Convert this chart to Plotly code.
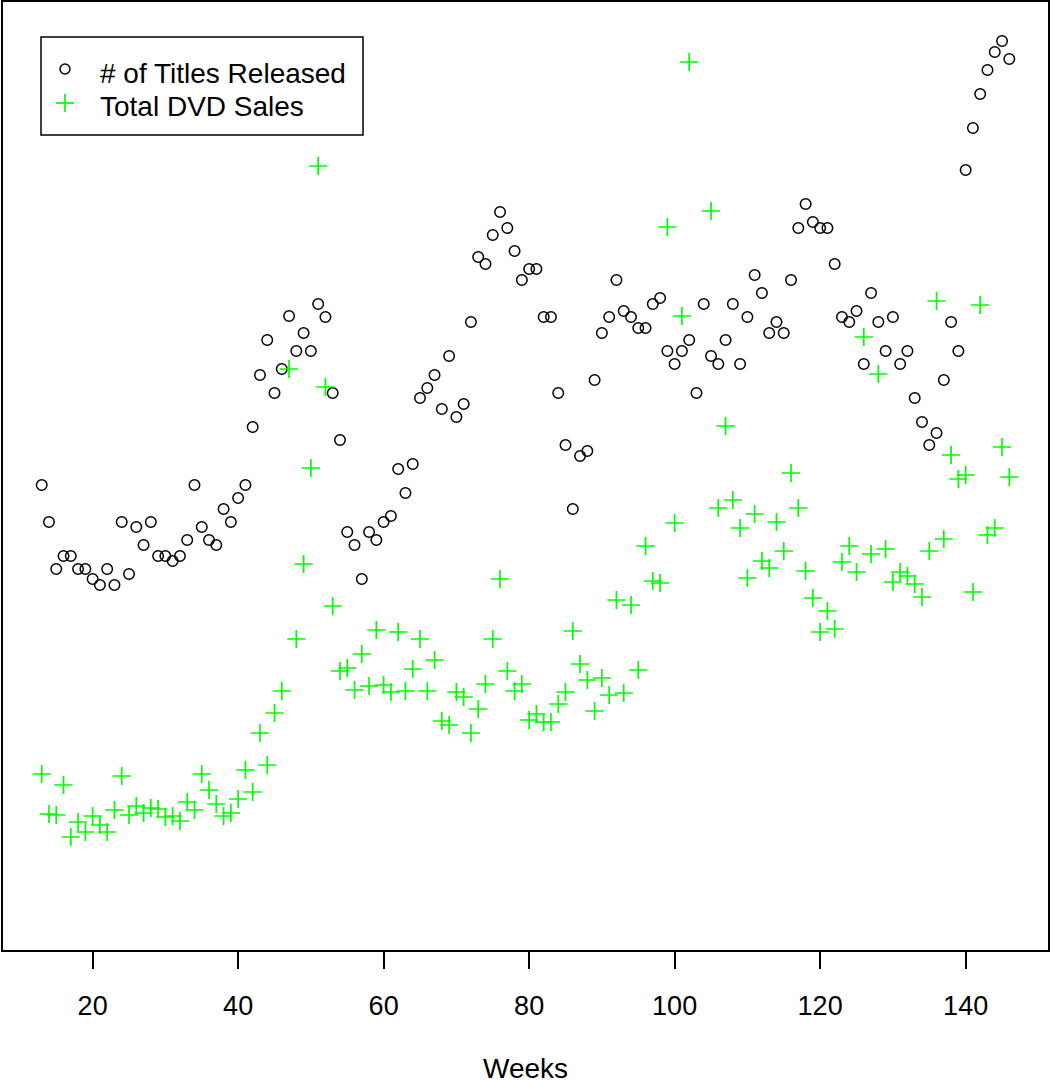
import plotly.graph_objects as go

# Weeks (x) shared by both series
weeks = list(range(13, 147))

# "# of Titles Released" (relative units, height above plot floor)
titles_released = [
    465, 428, 381, 394, 394, 381, 381, 371, 365, 381,   # 13-22
    365, 428, 376, 423, 405, 428, 394, 394, 389, 394,   # 23-32
    410, 465, 423, 410, 405, 441, 428, 452, 465, 523,   # 33-42
    575, 610, 557, 581, 634, 599, 617, 599, 646, 633,   # 43-52
    557, 510, 418, 405, 371, 418, 410, 428, 434, 481,   # 53-62
    457, 486, 552, 562, 575, 541, 594, 533, 546, 628,   # 63-72
    693, 686, 715, 738, 722, 699, 670, 681, 681, 633,   # 73-82
    633, 557, 505, 441, 494, 499, 570, 617, 633, 670,   # 83-92
    639, 633, 622, 622, 646, 652, 599, 586, 599, 610,   # 93-102
    557, 646, 594, 586, 610, 646, 586, 633, 675, 657,   # 103-112
    617, 628, 617, 670, 722, 746, 728, 722, 722, 686,   # 113-122
    633, 628, 639, 586, 657, 628, 599, 633, 586, 599,   # 123-132
    552, 528, 505, 517, 570, 628, 599, 780, 822, 856,   # 133-142
    880, 898, 909, 891,                                 # 143-146
]

# "Total DVD Sales" (relative units; weeks 103-104 not shown in the reference)
total_dvd_sales = [
    176, 136, 135, 165, 113, 128, 118, 134, 125, 118,   # 13-22
    140, 174, 135, 144, 137, 142, 141, 133, 134, 129,   # 23-32
    148, 140, 176, 160, 146, 134, 137, 151, 180, 158,   # 33-42
    217, 185, 237, 259, 581, 311, 386, 482, 784, 563,   # 43-52
    344, 279, 282, 260, 296, 264, 320, 265, 258, 318,   # 53-62
    259, 281, 311, 259, 290, 229, 225, 258, 253, 217,   # 63-72
    241, 266, 311, 371, 279, 259, 266, 230, 236, 228,   # 73-82
    228, 246, 258, 319, 286, 270, 239, 272, 255, 350,   # 83-92
    257, 345, 280, 404, 369, 367, 723, 427, 634, 888,   # 93-102
    None, None, 739, 442, 524, 450, 422, 372, 436, 389, # 103-112
    382, 428, 399, 477, 442, 379, 352, 318, 339, 321,   # 113-122
    388, 404, 378, 613, 396, 576, 401, 368, 378, 374,   # 123-132
    366, 353, 399, 649, 411, 495, 471, 475, 358, 645,   # 133-142
    415, 422, 503, 473,                                 # 143-146
]

x_tick_vals = [20, 40, 60, 80, 100, 120, 140]
x_title = "Weeks"
series_names = ["# of Titles Released", "Total DVD Sales"]

FONT = "Liberation Sans, Arial, Helvetica, sans-serif"
BLACK = "black"
GREEN = "#00FF00"

W, H = 1050, 1084
ml, mr, mt, mb = 3, 2, 2, 134
pw, ph = W - ml - mr, H - mt - mb


def px_x(px):  # page pixel -> paper x
    return (px - ml) / pw


def px_y(py):  # page pixel -> paper y
    return (H - mb - py) / ph


fig = go.Figure()
fig.add_trace(go.Scatter(
    x=weeks, y=titles_released, mode="markers", name=series_names[0],
    marker=dict(symbol="circle-open", size=10.5, color=BLACK,
                line=dict(color=BLACK, width=1.5)),
))
fig.add_trace(go.Scatter(
    x=weeks, y=total_dvd_sales, mode="markers", name=series_names[1],
    marker=dict(symbol="cross-thin-open", size=13, color=GREEN,
                line=dict(color=GREEN, width=1.7)),
))

# legend drawn as layout decoration (box, keys, labels)
shapes = [
    dict(type="rect", xref="paper", yref="paper",
         x0=px_x(41), x1=px_x(363), y0=px_y(135), y1=px_y(37),
         line=dict(color=BLACK, width=1.5), fillcolor="white", layer="above"),
    dict(type="circle", xref="paper", yref="paper",
         x0=px_x(60), x1=px_x(70), y0=px_y(74), y1=px_y(64),
         line=dict(color=BLACK, width=1.5), layer="above"),
    dict(type="line", xref="paper", yref="paper",
         x0=px_x(56), x1=px_x(74), y0=px_y(103), y1=px_y(103),
         line=dict(color=GREEN, width=1.7), layer="above"),
    dict(type="line", xref="paper", yref="paper",
         x0=px_x(65), x1=px_x(65), y0=px_y(94), y1=px_y(112),
         line=dict(color=GREEN, width=1.7), layer="above"),
]

annotations = [
    dict(text=series_names[0], xref="paper", yref="paper",
         x=px_x(98), y=px_y(73), xanchor="left", yanchor="middle",
         showarrow=False, font=dict(family=FONT, size=28, color=BLACK)),
    dict(text=series_names[1], xref="paper", yref="paper",
         x=px_x(98), y=px_y(106), xanchor="left", yanchor="middle",
         showarrow=False, font=dict(family=FONT, size=28, color=BLACK)),
    dict(text=x_title, xref="paper", yref="paper",
         x=0.5, y=px_y(1068), xanchor="center", yanchor="middle",
         showarrow=False, font=dict(family=FONT, size=28, color=BLACK)),
]

fig.update_layout(
    width=W, height=H, autosize=False,
    margin=dict(l=ml, r=mr, t=mt, b=mb, pad=0),
    paper_bgcolor="white", plot_bgcolor="white",
    font=dict(family=FONT, size=28, color=BLACK),
    showlegend=False,
    shapes=shapes,
    annotations=annotations,
    xaxis=dict(
        range=[7.68, 151.32], tickvals=x_tick_vals,
        ticks="outside", ticklen=17, tickwidth=1.5, tickcolor=BLACK,
        ticklabelstandoff=14,
        tickfont=dict(family=FONT, size=27, color=BLACK),
        showline=True, linecolor=BLACK, linewidth=1.5, mirror=True,
        showgrid=False, zeroline=False, automargin=False,
    ),
    yaxis=dict(
        range=[0, 948], showticklabels=False, ticks="",
        showline=True, linecolor=BLACK, linewidth=1.5, mirror=True,
        showgrid=False, zeroline=False, automargin=False,
    ),
)

post = ("document.documentElement.style.margin='0';"
        "document.body.style.margin='0';document.body.style.padding='0';"
        "document.documentElement.style.overflow='hidden';"
        "document.body.style.overflow='hidden';")

fig.write_html("out.html", post_script=post,
               config={"displayModeBar": False, "responsive": False})
